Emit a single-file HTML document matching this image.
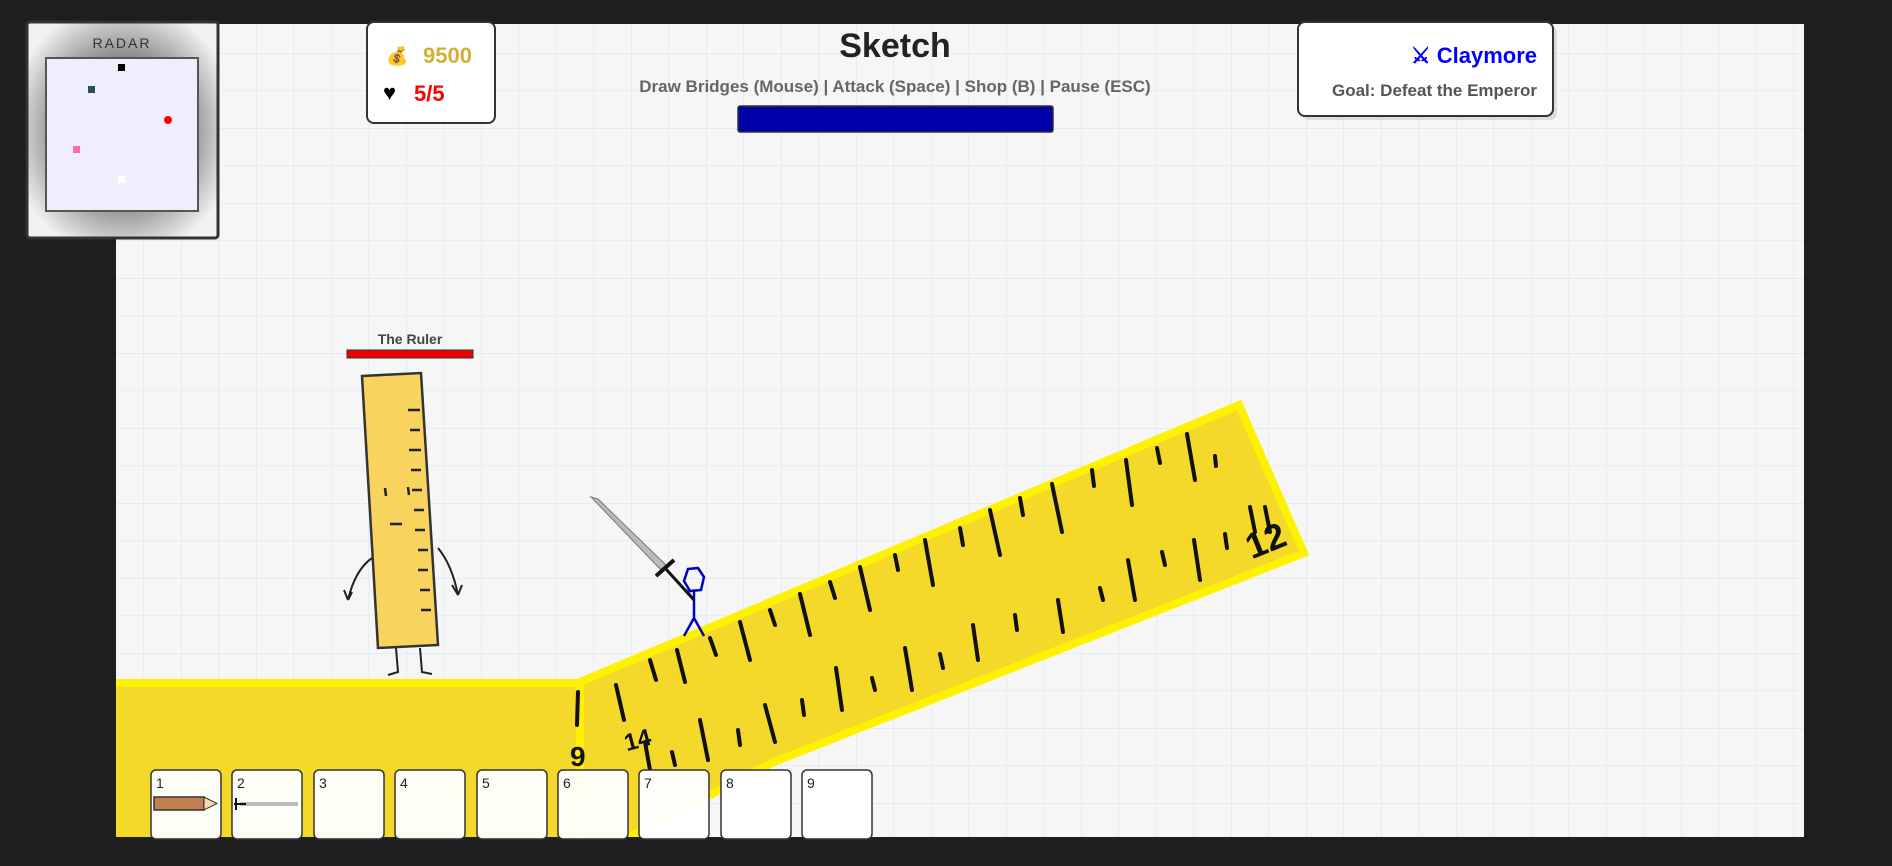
<!DOCTYPE html>
<html><head><meta charset="utf-8"><style>
html,body{margin:0;padding:0;background:#1e1e1e;width:1892px;height:866px;overflow:hidden;font-family:"Liberation Sans",sans-serif}
</style></head><body>
<svg width="1892" height="866" viewBox="0 0 1892 866" xmlns="http://www.w3.org/2000/svg">
<defs>
<pattern id="g" x="143.5" y="53" width="37.5" height="37.5" patternUnits="userSpaceOnUse">
<path d="M0 0H37.5M0 0V37.5" stroke="#d6e6f8" stroke-width="1.2" fill="none"/>
</pattern>
<radialGradient id="rg" cx="50%" cy="50%" r="60%"><stop offset="55%" stop-color="#888"/><stop offset="100%" stop-color="#f2f2f2"/></radialGradient>
<clipPath id="cv"><rect x="116" y="24" width="1688" height="813"/></clipPath>
</defs>
<rect width="1892" height="866" fill="#1e1e1e"/>
<rect x="116" y="24" width="1688" height="813" fill="#f6f6f6"/>
<rect x="116" y="24" width="1688" height="813" fill="url(#g)"/>
<g clip-path="url(#cv)">
<polygon points="100,683 580,683 580,860 100,860" fill="#f4d82a" stroke="#fff200" stroke-width="8"/>
<polygon points="580,682 1239,405 1304,553 774,762 584,860 580,860" fill="#f4d82a" stroke="#fff200" stroke-width="8"/>
</g>
<g stroke="#111" stroke-width="4" stroke-linecap="round" fill="none">
<path d="M578 692 L577 725 M616 685 L624 720 M650 660 L656 680 M677 650 L685 682 M710 638 L716 655 M740 622 L750 660 M770 610 L775 625 M800 594 L810 635 M830 582 L835 598 M860 567 L870 610 M895 555 L898 570 M925 540 L933 585 M960 528 L963 545 M990 510 L1000 555 M1020 498 L1023 515 M1052 484 L1062 532 M1092 470 L1094 486 M1126 460 L1132 505 M1157 448 L1160 463 M1187 434 L1195 480 M1215 456 L1216 466"/>
<path d="M645 742 L650 770 M672 752 L675 765 M700 720 L708 760 M738 730 L740 745 M765 705 L775 742 M802 700 L804 715 M836 668 L842 710 M872 678 L875 690 M905 648 L912 690 M940 654 L943 668 M973 625 L978 660 M1015 615 L1017 630 M1058 600 L1063 632 M1100 588 L1103 600 M1128 560 L1135 600 M1162 552 L1165 565 M1194 540 L1200 580 M1225 534 L1227 548 M1250 507 L1255 532 M1265 507 L1270 532"/>
</g>
<text x="1245" y="555" font-size="36" font-weight="bold" fill="#111" transform="rotate(-22 1260 540)">12</text>
<text x="570" y="766" font-size="28" font-weight="bold" fill="#111">9</text>
<text x="624" y="750" font-size="24" font-weight="bold" fill="#111" transform="rotate(-15 630 740)">14</text>
<text x="410" y="344" font-size="14" font-weight="bold" fill="#444" text-anchor="middle">The Ruler</text>
<rect x="347" y="350" width="126" height="8" fill="#e00" stroke="#333" stroke-width="1"/>
<g stroke="#222" stroke-width="2" fill="none">
<path d="M372 558 Q355 570 348 600 M348 600 L344 590 M348 600 L352 592"/>
<path d="M438 548 Q452 565 458 595 M458 595 L452 585 M458 595 L462 585"/>
<path d="M396 648 L398 672 L388 675 M420 648 L422 672 L432 674"/>
</g>
<polygon points="362,376 421,373 438,645 378,648" fill="#f8d35e" stroke="#333" stroke-width="2.5"/>
<g stroke="#222" stroke-width="2.5">
<path d="M408 410 L420 410 M410 430 L420 430 M409 450 L421 450 M411 470 L421 470 M412 490 L422 490 M414 510 L424 510 M415 530 L425 530 M418 550 L428 550 M418 570 L428 570 M420 590 L430 590 M421 610 L431 610"/>
<path d="M385 488 L386 496 M408 487 L409 495 M390 524 L402 524"/>
</g>
<g stroke="#0000c0" stroke-width="2.5" fill="none">
<polygon points="688,569 698,568 704,577 701,590 690,591 684,581"/>
<path d="M694 591 L694 618 L684 636 M694 618 L704 636 M694 600 L686 590"/>
</g>
<polygon points="591,497 598,499 667,566 662,571" fill="#bbb" stroke="#777" stroke-width="1"/>
<path d="M656 576 L674 560" stroke="#111" stroke-width="4"/>
<path d="M665 568 L694 600" stroke="#111" stroke-width="3"/>
<rect x="27" y="22" width="191" height="216" rx="3" fill="url(#rg)" stroke="#333" stroke-width="3"/>
<text x="122" y="48" font-size="14" fill="#333" text-anchor="middle" letter-spacing="2">RADAR</text>
<rect x="46" y="58" width="152" height="153" fill="#eeeefc" stroke="#555" stroke-width="2"/>
<rect x="118" y="64" width="7" height="7" fill="#000"/>
<rect x="88" y="86" width="7" height="7" fill="#2f4f4f"/>
<circle cx="168" cy="120" r="4" fill="#f00"/>
<rect x="73" y="146" width="7" height="7" fill="#ff69b4"/>
<rect x="118" y="176" width="7" height="7" fill="#fff"/>
<rect x="371" y="26" width="124" height="98" rx="7" fill="#ccc" opacity=".6"/>
<rect x="367" y="22" width="128" height="101" rx="7" fill="#fff" stroke="#333" stroke-width="2"/>
<text x="386" y="62" font-size="18">💰</text>
<text x="423" y="63" font-size="22" font-weight="bold" fill="#d4af37">9500</text>
<text x="383" y="100" font-size="22">♥</text>
<text x="414" y="101" font-size="22" font-weight="bold" fill="#f00">5/5</text>
<text x="895" y="57" font-size="34" font-weight="bold" fill="#222" text-anchor="middle">Sketch</text>
<text x="895" y="92" font-size="17" font-weight="bold" fill="#666" text-anchor="middle">Draw Bridges (Mouse) | Attack (Space) | Shop (B) | Pause (ESC)</text>
<rect x="738" y="106" width="315" height="26" rx="2" fill="#0000aa" stroke="#333" stroke-width="1.5"/>
<rect x="1302" y="26" width="255" height="94" rx="7" fill="#ccc" opacity=".6"/>
<rect x="1298" y="22" width="255" height="94" rx="7" fill="#fff" stroke="#333" stroke-width="2"/>
<text x="1537" y="63" font-size="22" font-weight="bold" fill="#00f" text-anchor="end">⚔ Claymore</text>
<text x="1537" y="96" font-size="17" font-weight="bold" fill="#555" text-anchor="end">Goal: Defeat the Emperor</text>
<g font-size="14" fill="#222">
<rect x="151" y="770" width="70" height="69" rx="5" fill="#fff" fill-opacity=".96" stroke="#333" stroke-width="1.5"/><text x="156" y="788">1</text>
<rect x="232" y="770" width="70" height="69" rx="5" fill="#fff" fill-opacity=".96" stroke="#333" stroke-width="1.5"/><text x="237" y="788">2</text>
<rect x="314" y="770" width="70" height="69" rx="5" fill="#fff" fill-opacity=".96" stroke="#333" stroke-width="1.5"/><text x="319" y="788">3</text>
<rect x="395" y="770" width="70" height="69" rx="5" fill="#fff" fill-opacity=".96" stroke="#333" stroke-width="1.5"/><text x="400" y="788">4</text>
<rect x="477" y="770" width="70" height="69" rx="5" fill="#fff" fill-opacity=".96" stroke="#333" stroke-width="1.5"/><text x="482" y="788">5</text>
<rect x="558" y="770" width="70" height="69" rx="5" fill="#fff" fill-opacity=".96" stroke="#333" stroke-width="1.5"/><text x="563" y="788">6</text>
<rect x="639" y="770" width="70" height="69" rx="5" fill="#fff" fill-opacity=".97" stroke="#333" stroke-width="1.5"/><text x="644" y="788">7</text>
<rect x="721" y="770" width="70" height="69" rx="5" fill="#fff" stroke="#333" stroke-width="1.5"/><text x="726" y="788">8</text>
<rect x="802" y="770" width="70" height="69" rx="5" fill="#fff" stroke="#333" stroke-width="1.5"/><text x="807" y="788">9</text>
</g>
<rect x="154" y="797" width="50" height="13" fill="#c08050" stroke="#333" stroke-width="1.5"/>
<polygon points="204,797 217,803.5 204,810" fill="#f3dcb0" stroke="#333" stroke-width="1"/>
<rect x="240" y="802" width="58" height="4" fill="#bbb"/>
<path d="M236 798 L236 810 M234 804 L246 804" stroke="#111" stroke-width="2"/>
</svg>
</body></html>
